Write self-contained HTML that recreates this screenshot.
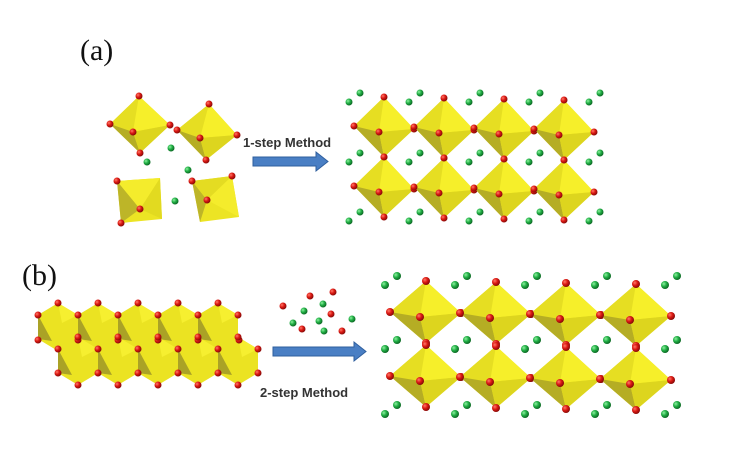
<!DOCTYPE html>
<html><head><meta charset="utf-8"><style>
html,body{margin:0;padding:0;background:#fff;}
svg{display:block;}
text{font-family:"Liberation Sans",sans-serif;}
</style></head><body>
<svg id="s" width="742" height="454" viewBox="0 0 742 454">
<defs>
<radialGradient id="gr" cx="35%" cy="35%" r="65%"><stop offset="0" stop-color="#ff7a6a"/><stop offset="0.5" stop-color="#dd1a14"/><stop offset="1" stop-color="#8a0a08"/></radialGradient>
<radialGradient id="gg" cx="35%" cy="35%" r="65%"><stop offset="0" stop-color="#8ff0a0"/><stop offset="0.5" stop-color="#22b046"/><stop offset="1" stop-color="#0c6a24"/></radialGradient>
</defs>
<text x="80" y="60" font-family="Liberation Serif, serif" style="font-family:'Liberation Serif',serif" font-size="30" fill="#111">(a)</text>
<text x="22" y="285" style="font-family:'Liberation Serif',serif" font-size="30" fill="#111">(b)</text>
<g id="L"></g>
<text x="243" y="147" font-size="13" font-weight="bold" fill="#333">1-step Method</text>
<polygon points="253,157 316,157 316,152 328,161.5 316,171 316,166 253,166" fill="#4a7fc4" stroke="#2f5f9e" stroke-width="1"/>
<text x="260" y="397" font-size="13" font-weight="bold" fill="#333">2-step Method</text>
<polygon points="273,347 354,347 354,342 366,351.5 354,361 354,356 273,356" fill="#4a7fc4" stroke="#2f5f9e" stroke-width="1"/>
</svg>
<script>
const NS="http://www.w3.org/2000/svg";
const L=document.getElementById('L');
function el(t,a){const e=document.createElementNS(NS,t);for(const k in a)e.setAttribute(k,a[k]);L.appendChild(e);return e;}
function poly(pts,fill){return el('polygon',{points:pts.map(p=>p.join(',')).join(' '),fill:fill});}
function ball(x,y,r,c){const e=el('circle',{cx:x,cy:y,r:r,fill:c=='r'?'url(#gr)':'url(#gg)'});

}
function octa(T,Lf,R,B,F,rr){
 poly([T,R,B,Lf],'#e8e020');
 poly([T,Lf,F],'#e6de22');
 poly([T,F,R],'#f6ef2a');
 poly([Lf,F,B],'#b5ad24');
 poly([F,R,B],'#ddd51e');
 [T,Lf,R,B,F].forEach(p=>ball(p[0],p[1],rr,'r'));
}
// panel a isolated octahedra
octa([139,96],[110,124],[170,125],[140,153],[133,132],3.5);
octa([209,104],[177,130],[237,135],[206,160],[200,138],3.5);
poly([[117,181],[160,178],[162,219],[121,223]],'#ece424');
poly([[117,181],[140,209],[121,223]],'#bdb528');
poly([[160,178],[162,219],[140,209]],'#e2da20');
poly([[117,181],[160,178],[140,209]],'#f4ec2c');
[[117,181],[140,209],[121,223]].forEach(p=>ball(p[0],p[1],3.5,'r'));
poly([[192,181],[232,176],[239,217],[200,222]],'#ece424');
poly([[192,181],[207,200],[200,222]],'#bdb528');
poly([[192,181],[232,176],[207,200]],'#e4dc22');
poly([[232,176],[239,217],[207,200]],'#f4ec2c');
[[192,181],[232,176],[207,200]].forEach(p=>ball(p[0],p[1],3.5,'r'));
[[171,148],[147,162],[188,170],[175,201]].forEach(p=>ball(p[0],p[1],3.5,'g'));
// panel a product grid
for(let i=0;i<4;i++)for(let j=0;j<2;j++){
 const cx=384+60*i, cy=127+60*j+i;
 octa([cx,cy-30],[cx-30,cy-1],[cx+30,cy+2],[cx,cy+30],[cx-5,cy+5],3.5);
}
for(let i=0;i<5;i++)[97,157,216].forEach(y=>{const x=354+60*i;ball(x-5,y+5,3.5,'g');ball(x+6,y-4,3.5,'g');});
// panel b layered hexagons
function hex(cx,cy){
 poly([[cx,cy-24],[cx+20,cy-12],[cx+20,cy+12],[cx,cy+24],[cx-20,cy+12],[cx-20,cy-12]],'#ebe322');
 poly([[cx-20,cy-12],[cx-20,cy+12],[cx-6,cy+14]],'#aaa226');
 poly([[cx,cy-24],[cx+20,cy-12],[cx+4,cy-4]],'#f6ef30');
}
for(let i=0;i<5;i++)hex(58+40*i,327);
for(let i=0;i<5;i++)hex(78+40*i,361);
for(let i=0;i<5;i++){const cx=58+40*i;[[cx,303],[cx-20,315],[cx-20,340]].forEach(p=>ball(p[0],p[1],3.5,'r'));}
ball(238,315,3.5,'r');ball(239,340,3.5,'r');
for(let i=0;i<5;i++){const cx=78+40*i;[[cx,337],[cx-20,349],[cx-20,373],[cx,385]].forEach(p=>ball(p[0],p[1],3.5,'r'));}
ball(258,349,3.5,'r');ball(258,373,3.5,'r');
[[283,306],[310,296],[333,292],[331,314],[302,329],[342,331]].forEach(p=>ball(p[0],p[1],3.5,'r'));
[[323,304],[304,311],[293,323],[319,321],[324,331],[352,319]].forEach(p=>ball(p[0],p[1],3.5,'g'));
// panel b product grid
for(let i=0;i<4;i++)for(let j=0;j<2;j++){
 const cx=426+70*i, cy=312+64*j+i;
 octa([cx,cy-31],[cx-36,cy],[cx+35,cy+1],[cx,cy+31],[cx-6,cy+5],4);
}
for(let i=0;i<5;i++)[281,345,410].forEach(y=>{const x=391+70*i;ball(x-6,y+4,4,'g');ball(x+6,y-5,4,'g');});
</script>
</body></html>
